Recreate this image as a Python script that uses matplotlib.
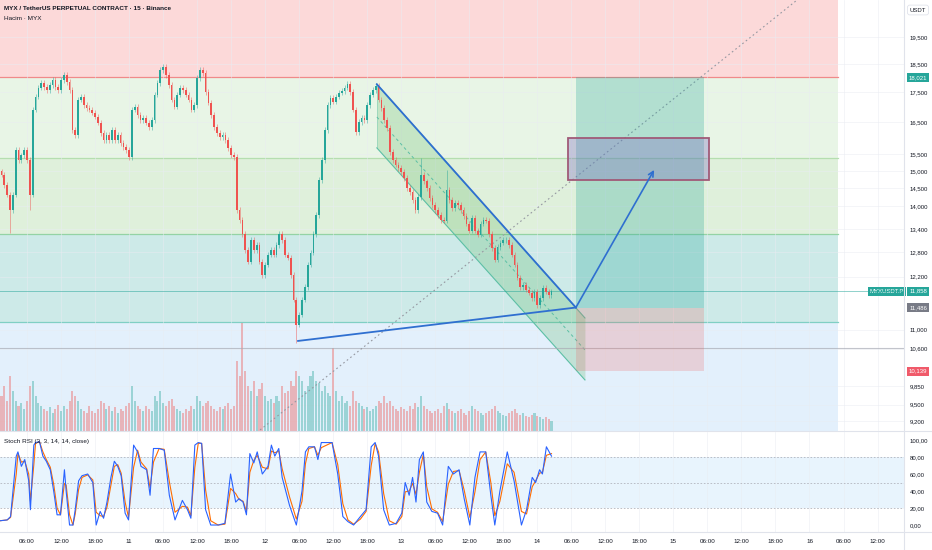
import numpy as np
import matplotlib
matplotlib.use('Agg')
import matplotlib.pyplot as plt
import matplotlib.transforms as mtransforms
from matplotlib.patches import Rectangle
from matplotlib.lines import Line2D

plt.rcParams['font.family'] = ['Liberation Sans', 'DejaVu Sans']

# 30 dk'lik mumlar (saat 0 = 10. gun 00:00)
candle_start = 1.5
candle_step = 0.5
first_open = 15000
closes = [
    14890, 14600, 14320, 13900, 14320, 15635, 15330, 15480, 15635, 15330,
    14320, 16910, 17346, 17654, 17826, 17688, 17584, 17757, 17932, 17688,
    17584, 17932, 18107, 17861, 17584, 16260, 16101, 17245, 17346, 17076,
    16976, 16910, 16811, 16680, 16485, 16164, 15944, 16101, 15944, 16260,
    15944, 16101, 15851, 15728, 15635, 15423, 16910, 17010, 16745, 16581,
    16647, 16485, 16355, 16581, 17414, 17826, 18286, 18393, 18107, 17757,
    17245, 17010, 17414, 17654, 17584, 17414, 17245, 16910, 17076, 18001,
    18286, 18178, 17515, 17144, 16745, 16355, 16164, 16038, 16101, 15944,
    15697, 15484, 15423, 13903, 13633, 13265, 12856, 12559, 13110, 12856,
    12983, 12559, 12242, 12485, 12732, 12856, 12732, 12983, 13265, 13110,
    12732, 12657, 12242, 11658, 11102, 11321, 11658, 11958, 12485, 12782,
    13265, 13768, 14743, 15333, 16260, 17076, 17312, 17178, 17346, 17482,
    17550, 17654, 17792, 17515, 16910, 16196, 16517, 16647, 16581, 17076,
    17414, 17584, 17722, 17245, 16976, 16581, 16323, 15575, 15333, 15184,
    15095, 14977, 14801, 14515, 14402, 14178, 13903, 14262, 14900, 14700,
    14515, 14233, 14040, 13903, 13768, 13633, 13608, 14458, 14178, 13957,
    14095, 14040, 13903, 13741, 13528, 13344, 13688, 13344, 13240, 13528,
    13633, 13608, 13265, 12907, 12608, 12932, 13034, 13110, 13110, 12983,
    12732, 12485, 12171, 11958, 12005, 11889, 11819, 11703, 11842, 11544,
    11703, 11935, 11842, 11772, 11858,
]
high_fix = {148: 15400, 157: 15040}
low_fix = {3: 13300, 10: 13900, 104: 10720}

volumes = [
    35, 45, 30, 55, 40, 30, 25, 28, 22, 30,
    45, 50, 35, 28, 25, 22, 20, 24, 18, 22,
    26, 20, 25, 22, 30, 40, 35, 30, 22, 20,
    18, 25, 20, 18, 22, 30, 28, 22, 25, 20,
    24, 18, 22, 20, 25, 28, 45, 30, 25, 22,
    20, 25, 22, 20, 35, 30, 40, 28, 25, 30,
    32, 25, 22, 20, 18, 22, 20, 25, 22, 35,
    30, 25, 28, 30, 25, 22, 20, 24, 22, 25,
    28, 22, 25, 70, 55, 108, 60, 45, 40, 50,
    35, 42, 48, 35, 30, 32, 28, 35, 30, 45,
    38, 40, 50, 45, 60, 55, 50, 40, 45, 55,
    60, 50, 48, 40, 45, 38, 35, 83, 40, 30,
    35, 28, 30, 25, 40, 30, 28, 25, 22, 24,
    20, 22, 25, 30, 28, 35, 28, 30, 25, 22,
    20, 24, 22, 20, 25, 22, 28, 24, 35, 25,
    22, 20, 18, 20, 22, 18, 25, 28, 22, 20,
    18, 20, 22, 18, 16, 20, 25, 22, 20, 18,
    16, 18, 20, 22, 25, 20, 18, 16, 15, 18,
    20, 22, 18, 16, 18, 15, 14, 16, 18, 15,
    14, 12, 14, 12, 10,
]

stoch_t = [
    1.2, 2.5, 3.1, 4.1, 4.4, 5.0, 5.6, 6.3, 6.6, 7.2,
    7.5, 8.2, 8.8, 9.4, 10.1, 10.7, 11.3, 11.9, 12.6, 12.9,
    13.5, 14.1, 14.5, 15.1, 15.7, 16.7, 17.6, 18.2, 18.9, 19.5,
    20.1, 20.8, 21.4, 22.0, 22.6, 23.3, 23.9, 24.8, 25.5, 26.1,
    27.1, 27.7, 28.3, 29.3, 30.2, 31.1, 32.1, 33.4, 34.3, 34.9,
    35.6, 36.2, 36.8, 37.5, 38.4, 39.7, 40.9, 41.9, 42.8, 43.4,
    44.1, 44.7, 45.3, 46.0, 46.6, 47.5, 48.5, 49.1, 49.7, 50.4,
    51.0, 52.3, 53.5, 54.5, 55.1, 55.7, 56.7, 57.3, 57.9, 59.8,
    60.8, 61.7, 62.6, 63.6, 64.8, 65.8, 66.7, 67.4, 68.0, 68.9,
    69.9, 71.1, 72.1, 72.7, 73.4, 74.0, 74.6, 75.2, 75.9, 76.5,
    77.4, 78.4, 79.3, 80.3, 81.2, 82.2, 83.1, 84.1, 85.0, 85.9,
    86.9, 87.8, 88.5, 89.4, 90.7, 91.9, 93.2, 94.1, 95.1, 95.7,
    96.4, 96.9, 97.6, 98.5,
]
stoch_k = [
    5, 6, 10, 81, 86, 69, 77, 52, 18, 94,
    97, 98, 81, 75, 65, 40, 12, 12, 65, 40,
    0, 0, 18, 52, 58, 60, 50, 0, 16, 8,
    27, 56, 75, 69, 58, 14, 6, 94, 86, 69,
    65, 35, 90, 90, 88, 35, 6, 29, 18, 8,
    94, 97, 96, 18, 0, 0, 2, 60, 27, 31,
    27, 12, 84, 73, 86, 60, 69, 94, 81, 90,
    56, 23, 0, 40, 86, 92, 92, 77, 97, 97,
    60, 10, 4, 0, 10, 18, 92, 97, 81, 18,
    0, 2, 14, 50, 35, 56, 27, 77, 86, 27,
    16, 14, 0, 69, 60, 65, 31, 0, 56, 86,
    86, 35, 0, 40, 86, 52, 0, 18, 56, 50,
    65, 60, 92, 81,
]
stoch_d = [
    5, 6, 9, 60, 84, 74, 75, 60, 28, 71,
    96, 98, 86, 77, 68, 48, 20, 12, 49, 47,
    12, 0, 13, 42, 56, 59, 53, 15, 11, 10,
    21, 47, 69, 71, 61, 27, 9, 68, 88, 74,
    66, 44, 74, 90, 89, 51, 15, 22, 21, 11,
    68, 96, 96, 41, 5, 0, 1, 43, 37, 30,
    28, 16, 62, 76, 82, 68, 66, 87, 85, 87,
    66, 33, 7, 28, 72, 90, 92, 82, 91, 97,
    71, 25, 6, 1, 7, 16, 70, 96, 86, 37,
    5, 1, 10, 39, 40, 49, 36, 62, 83, 45,
    19, 15, 4, 48, 63, 64, 41, 9, 39, 77,
    86, 50, 11, 28, 72, 62, 16, 13, 45, 52,
    61, 62, 82, 84,
]

# fib bolgeleri
fib_levels = [23000, 18021, 15393, 13265, 11167, 8800]
fib_colors = ['#fcd9d9', '#e8f5e6', '#dff0db', '#cdeae8', '#e3f0fc']
fib_line_colors = ['#f08a8a', '#b5deb0', '#94d3a4', '#7fcfc4']
fib_t = [-5, 149.0]

# cizimler
trend_t = [53.8, 102.8]
trend_p = [10759, 11486]
channel_t = [67.7, 104.4]
channel_up = [17782, 11254]
channel_lo = [15699, 9968]
channel_mid = [16678, 10571]
blue_t = [67.7, 102.8]
blue_p = [17782, 11486]
arrow_from = (102.8, 11486)
arrow_to = (116.6, 15037)
long_t = [102.8, 125.4]
entry, target, stop = 11486, 18021, 10139
box_t = [101.4, 126.3]
box_p = [14744, 16013]
diag_t = [47.1, 144.1]
diag_p = [9039, 21400]
last_price = 11858
grey_line = 10612

price_ticks = [19500, 18500, 17500, 16500, 15500, 15000, 14500, 14000,
               13400, 12800, 12200, 11000, 10600, 9850, 9500, 9200]
time_ticks = list(range(6, 157, 6))
time_labels = []
for h in time_ticks:
    if h % 24 == 0:
        time_labels.append(str(10 + h // 24))
    else:
        time_labels.append('%02d:00' % (h % 24))

t_left, t_right = 1.235, 160.67
p_low, p_high = 9020, 20970

W, H = 932, 550
fig = plt.figure(figsize=(W / 100, H / 100), dpi=100)
main_rect = [0, 1 - 431 / H, 904 / W, 431 / H]
stoch_rect = [0, 1 - 532 / H, 904 / W, 100 / H]

ax = fig.add_axes(main_rect)
ax_vol = fig.add_axes(main_rect, sharex=ax)
ax_p = fig.add_axes(main_rect, sharex=ax, sharey=ax)
ax_s = fig.add_axes(stoch_rect, sharex=ax)

ax.set_yscale('log')
ax.set_xlim(t_left, t_right)
ax.set_ylim(p_low, p_high)

for a in (ax_vol, ax_p):
    a.patch.set_visible(False)
    a.axis('off')

# fib bolgeleri
for i, c in enumerate(fib_colors):
    ax.fill_between(fib_t, fib_levels[i + 1], fib_levels[i], color=c, lw=0, zorder=1)
for i, c in enumerate(fib_line_colors):
    ax.plot(fib_t, [fib_levels[i + 1]] * 2, color=c, lw=0.9, zorder=1.5)

ax.yaxis.tick_right()
ax.set_yticks(price_ticks)
ax.set_yticklabels(['{:,}'.format(p) for p in price_ticks])
ax.minorticks_off()
ax.set_xticks(time_ticks)
ax.tick_params(axis='y', length=0, pad=4, labelsize=4.3, labelcolor='#131722')
ax.tick_params(axis='x', length=0, labelbottom=False)
ax.grid(True, color='#e9ecf2', lw=0.5, alpha=0.7)
ax.set_axisbelow(False)
for s in ax.spines.values():
    s.set_visible(False)

# hacim
opens = [first_open] + closes[:-1]
times = candle_start + candle_step * np.arange(len(closes))
up = np.array(closes) >= np.array(opens)
vol_colors = np.where(up, '#26a69a', '#ef5350')
ax_vol.bar(times, volumes, width=0.36, color=vol_colors, alpha=0.38, lw=0)
ax_vol.set_ylim(0, 431)

# mumlar
highs = [high_fix.get(i, max(o, c) * 1.005) for i, (o, c) in enumerate(zip(opens, closes))]
lows = [low_fix.get(i, min(o, c) * 0.995) for i, (o, c) in enumerate(zip(opens, closes))]
ax_p.vlines(times, lows, highs, colors=vol_colors, lw=0.6, alpha=0.55, zorder=3)
body_lo = np.minimum(opens, closes)
body_h = np.abs(np.array(closes) - np.array(opens))
ax_p.bar(times, body_h, bottom=body_lo, width=0.3, color=vol_colors, lw=0, zorder=4)

# kanal
ax_p.fill_between(channel_t, channel_lo, channel_up, color='#4caf50', alpha=0.22, lw=0, zorder=2)
ax_p.plot(channel_t, channel_lo, color='#5cbfa5', lw=0.8, zorder=2)
ax_p.plot(channel_t, channel_up, color='#5cbfa5', lw=0.8, zorder=2)
ax_p.plot(channel_t, channel_mid, color='#5cbfa5', lw=0.7, ls=(0, (3, 3)), zorder=2)
ax_p.plot([channel_t[0]] * 2, [channel_lo[0], channel_up[0]], color='#5cbfa5', lw=0.6, alpha=0.5)

# cizgiler
ax_p.plot(fib_t[:1] + [t_right], [last_price] * 2, color='#26a69a', lw=0.6, alpha=0.6, zorder=2)
ax_p.plot([t_left, t_right], [grey_line] * 2, color='#a9acb5', lw=0.8, alpha=0.7, zorder=2)
ax_p.plot(diag_t, diag_p, color='#9598a1', lw=0.8, ls=(0, (1.5, 2.5)), zorder=2)
ax_p.plot(trend_t, trend_p, color='#2f6fd0', lw=1.3, zorder=6)
ax_p.plot(blue_t, blue_p, color='#2f6fd0', lw=1.3, zorder=6)

# long pozisyon
ax_p.fill_between(long_t, entry, target, color='#26a69a', alpha=0.28, lw=0, zorder=2)
ax_p.fill_between(long_t, stop, entry, color='#ef5350', alpha=0.2, lw=0, zorder=2)
ax_p.add_patch(Rectangle((box_t[0], box_p[0]), box_t[1] - box_t[0], box_p[1] - box_p[0],
                         facecolor='#7e6fc0', alpha=0.35, edgecolor='none', zorder=5))
ax_p.add_patch(Rectangle((box_t[0], box_p[0]), box_t[1] - box_t[0], box_p[1] - box_p[0],
                         facecolor='none', edgecolor='#a05a78', lw=1.3, zorder=5))
ax_p.annotate('', xy=arrow_to, xytext=arrow_from,
              arrowprops=dict(arrowstyle='->', color='#2f6fd0', lw=1.2,
                              shrinkA=0, shrinkB=0, mutation_scale=9), zorder=6)

# fiyat etiketleri
bt = mtransforms.blended_transform_factory(ax.transAxes, ax.transData)
lab_x = 1 + 14 / 904
def price_tag(p, fc, txt=None):
    ax.text(lab_x, p, txt or '{:,}'.format(p), transform=bt, ha='center', va='center',
            fontsize=4.3, color='white', zorder=10,
            bbox=dict(boxstyle='square,pad=0.35', fc=fc, ec='none'))
price_tag(target, '#26a69a')
price_tag(last_price, '#26a69a')
price_tag(entry, '#787b86')
price_tag(stop, '#f05a6a')
ax.text(1 - 17 / 904, last_price, 'MYXUSDT.P', transform=bt, ha='center', va='center',
        fontsize=4.3, color='white', zorder=10,
        bbox=dict(boxstyle='square,pad=0.35', fc='#26a69a', ec='none'))
ax.text(1 + 14 / 904, 1 - 10 / 431, 'USDT', transform=ax.transAxes, ha='center', va='center',
        fontsize=4.3, color='#131722',
        bbox=dict(boxstyle='round,pad=0.4', fc='white', ec='#e0e3eb', lw=0.6))

ax.text(4 / 904, 1 - 8 / 431, 'MYX / TetherUS PERPETUAL CONTRACT · 15 · Binance',
        transform=ax.transAxes, fontsize=4.6, fontweight='bold', color='#131722', va='center')
ax.text(4 / 904, 1 - 19 / 431, 'Hacim · MYX', transform=ax.transAxes, fontsize=4.6,
        color='#131722', va='center')

# stoch rsi
ax_s.set_ylim(-8.2, 109.4)
ax_s.axhspan(20, 80, color='#2196f3', alpha=0.1, lw=0)
for lv in (20, 50, 80):
    ax_s.axhline(lv, color='#b2b5be', lw=0.6, ls=(0, (2, 2)))
ax_s.plot(stoch_t, stoch_d, color='#ff6d00', lw=0.8)
ax_s.plot(stoch_t, stoch_k, color='#2962ff', lw=0.8)
ax_s.yaxis.tick_right()
ax_s.set_yticks([0, 20, 40, 60, 80, 100])
ax_s.set_yticklabels(['0,00', '20,00', '40,00', '60,00', '80,00', '100,00'])
ax_s.set_xticks(time_ticks)
ax_s.set_xticklabels(time_labels)
ax_s.tick_params(axis='y', length=0, pad=4, labelsize=4.3, labelcolor='#131722')
ax_s.tick_params(axis='x', length=0, pad=5, labelsize=4.5, labelcolor='#131722')
ax_s.grid(True, axis='x', color='#e9ecf2', lw=0.5, alpha=0.7)
for s in ax_s.spines.values():
    s.set_visible(False)
ax_s.text(4 / 904, 0.9, 'Stoch RSI (3, 3, 14, 14, close)', transform=ax_s.transAxes,
          fontsize=4.6, color='#131722', va='center')

# ayiricilar
for y in (1 - 431 / H, 1 - 532 / H):
    fig.add_artist(Line2D([0, 1], [y, y], color='#e0e3eb', lw=0.8))
fig.add_artist(Line2D([904 / W] * 2, [0, 1], color='#e0e3eb', lw=0.8))

fig.savefig('out.png', dpi=100)
